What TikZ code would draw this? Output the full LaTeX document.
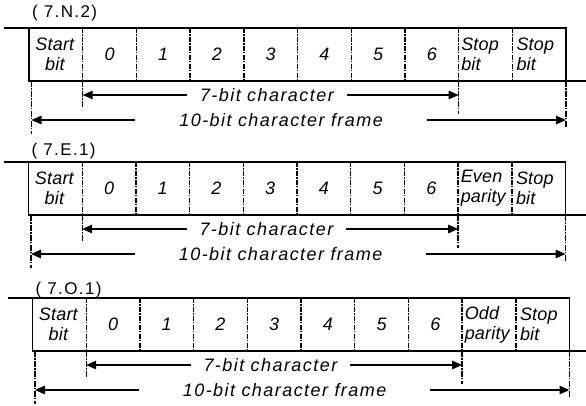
\documentclass[tikz,border=0pt]{standalone}
\usepackage{fontspec}
\setmainfont{Liberation Sans}
\newfontfamily\framefont[LetterSpace=8]{Liberation Sans}
\newfontfamily\cellfont[LetterSpace=1]{Liberation Sans}
\usetikzlibrary{calc, arrows.meta}
\tikzset{
    rail/.style={line width=1.8pt},
    cellsep/.style={line width=1.4pt, dash pattern=on 5pt off 1.3pt on 1.3pt off 1.3pt},
    guide/.style={line width=1.3pt, dash pattern=on 6pt off 1.3pt on 1.3pt off 1.3pt},
    span/.style={line width=1.5pt, {Triangle[length=10pt, width=8.5pt]}-{Triangle[length=10pt, width=8.5pt]}},
    bitlabel/.style={font=\cellfont\itshape\fontsize{18}{20}\selectfont, inner sep=0pt},
    spanlabel/.style={fill=white, inner ysep=1pt, font=\framefont\itshape\fontsize{18}{20}\selectfont},
    taglabel/.style={anchor=base west, inner sep=0pt, font=\framefont\fontsize{17}{19}\selectfont},
    common settings/.style={x={(1pt, 0pt)}, y={(0pt, -1pt)}}
}

\begin{document}
\begin{tikzpicture}[common settings]

    \def\w{53.7}   % width of one bit cell
    \def\h{53}     % height of the frame

    \useasboundingbox (0,0) rectangle (586,405);

    \foreach \x/\y/\lift/\name/\parA/\parB in {29/28/10.5/7.N.2/Stop/bit,
                                                28.5/162/7/7.E.1/Even/parity,
                                                32.5/298/4/7.O.1/Odd/parity}{

        % Corners of the cells
        \foreach \i in {0,...,10}{
            \coordinate (t\i) at (\x+\i*\w, \y);
            \coordinate (b\i) at (\x+\i*\w, \y+\h);
        }
        \coordinate (lead) at (\x-25, \y);
        \coordinate (tail) at (586, \y+\h);

        % Frame outline
        \draw[rail] (lead) -- (t10) -- (b10);
        \draw[rail] (t0) -- (b0) -- (tail);

        % Cell dividers
        \foreach \i in {1,...,9}
            \draw[cellsep] (t\i) -- (b\i);

        % Cell texts
        \node[bitlabel, align=center] (start) at ($(t0)!0.5!(b1) + (-1,0)$) {Start\\bit};
        \foreach \i [evaluate=\i as \j using int(\i+1), evaluate=\i as \k using int(\i+2)] in {0,...,6}
            \node[bitlabel] (bit\i) at ($(t\j)!0.5!(b\k)$) {\i};
        \node[bitlabel, anchor=west, align=left] (extra) at ($(t8)!0.5!(b8) + (2.5,0)$) {\parA\\\parB};
        \node[bitlabel, anchor=west, align=left] (stop) at ($(t9)!0.5!(b9) + (4,0)$) {Stop\\bit};

        % Guide lines below the frame
        \coordinate (g0) at (\x+2.5, \y+2*\h);
        \coordinate (g1) at (\x+\w, \y+\h+27);
        \coordinate (g8) at (\x+8*\w, \y+\h+33);
        \coordinate (g10) at (\x+10*\w, \y+\h+46);
        \draw[guide] ([xshift=2.5]b0) -- (g0);
        \draw[guide] (b1) -- (g1);
        \draw[guide] (b8) -- (g8);
        \draw[guide] (b10) -- (g10);

        % Spans
        \coordinate (s1) at (\x+\w, \y+\h+14);
        \coordinate (s8) at (\x+8*\w, \y+\h+14);
        \coordinate (f0) at (\x+2.5, \y+\h+39);
        \coordinate (f10) at (\x+10*\w, \y+\h+39);
        \draw[span] (s1) -- (s8) node[spanlabel, pos=0.49, inner xsep=13pt] (seven) {7-bit character};
        \draw[span] (f0) -- (f10) node[spanlabel, pos=0.467, inner xsep=44pt] (ten) {10-bit character frame};

        % Format tag
        \node[taglabel] (tag) at (\x+3, \y-\lift) {( \name)};
    }

\end{tikzpicture}
\end{document}
